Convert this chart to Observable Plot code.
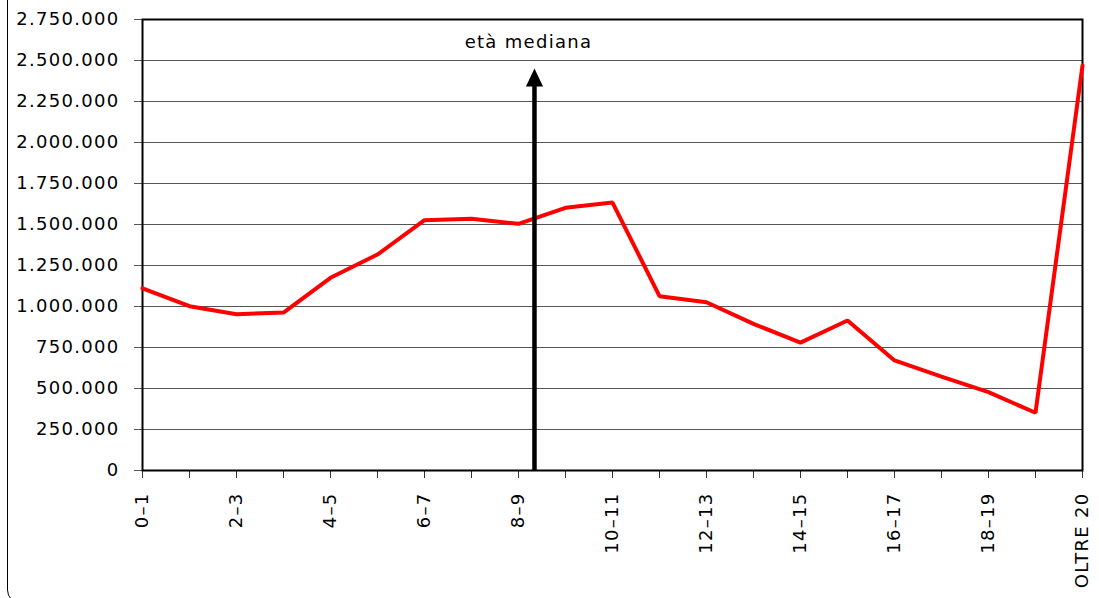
<!DOCTYPE html>
<html>
<head>
<meta charset="utf-8">
<script src="https://cdn.jsdelivr.net/npm/d3@7"></script>
<script src="https://cdn.jsdelivr.net/npm/@observablehq/plot@0.6"></script>
<style>
  html, body { margin: 0; padding: 0; background: #fff; overflow: hidden; }
  #wrap { position: relative; width: 1099px; height: 598px; overflow: hidden; }
  #border { position: absolute; left: 7px; top: -30px; width: 1200px; height: 634px;
            border: 1.5px solid #000; border-radius: 14px; box-sizing: border-box; }
  #chart { position: absolute; left: 0; top: 0; }
  #chart svg text { letter-spacing: 1.3px; }
</style>
</head>
<body>
<div id="wrap"><div id="border"></div><div id="chart"></div></div>
<script>
const categories = ["0–1","1–2","2–3","3–4","4–5","5–6","6–7","7–8","8–9","9–10","10–11",
  "11–12","12–13","13–14","14–15","15–16","16–17","17–18","18–19","19–20","OLTRE 20"];
const values = [1111000,1002000,953000,963000,1175000,1317000,1526000,1535000,1504000,1602000,1634000,
  1063000,1026000,894000,780000,915000,671000,573000,478000,352000,2470000];
const yTicks = [0,250000,500000,750000,1000000,1250000,1500000,1750000,2000000,2250000,2500000,2750000];
const medianLabel = "età mediana";
const medianPos = 8.34;      // position between categories 8–9 and 9–10
const medianArrowTop = 2451000;
const medianLabelY = 2610000;

const data = categories.map((c, i) => ({i, c, v: values[i]}));
const it = d3.formatLocale({decimal: ",", thousands: ".", grouping: [3], currency: ["€", ""]});
const fmt = it.format(",d");

const tipSymbol = {
  draw(ctx, size) {
    const r = Math.sqrt(size / Math.PI);
    ctx.moveTo(0, 0);
    ctx.lineTo(-r * 0.95, r * 2);
    ctx.lineTo(r * 0.95, r * 2);
    ctx.closePath();
  }
};

const chart = Plot.plot({
  width: 1099,
  height: 598,
  marginLeft: 142,
  marginRight: 17,
  marginTop: 19,
  marginBottom: 128,
  style: {fontFamily: "DejaVu Sans", fontSize: "18px", color: "#000", background: "transparent"},
  x: {type: "linear", domain: [0, categories.length - 1]},
  y: {domain: [0, 2750000]},
  marks: [
    Plot.gridY(yTicks, {stroke: "#555", strokeOpacity: 1, strokeWidth: 1}),
    Plot.axisY(yTicks, {tickSize: 8, tickPadding: 15, tickFormat: fmt, stroke: "#555", label: null}),
    Plot.axisX(d3.range(categories.length), {
      tickSize: 8, tickPadding: 14, tickRotate: -90, label: null, stroke: "#333",
      tickFormat: i => (i % 2 === 0 || i === categories.length - 1) ? categories[i] : ""
    }),
    Plot.frame({stroke: "#000", strokeWidth: 2}),
    Plot.line(data, {x: "i", y: "v", stroke: "#ff0000", strokeWidth: 4, strokeLinejoin: "miter"}),
    Plot.ruleX([medianPos], {y1: 0, y2: medianArrowTop - 100000, stroke: "#000", strokeWidth: 4.5}),
    Plot.dot([medianPos], {x: d => d, y: () => medianArrowTop, symbol: tipSymbol, r: 9, fill: "#000", stroke: "none"}),
    Plot.text([medianLabel], {x: () => medianPos, y: () => medianLabelY, text: d => d, textAnchor: "middle", dx: -6, fontSize: 18, fill: "#000"})
  ]
});
document.getElementById("chart").appendChild(chart);
</script>
</body>
</html>
